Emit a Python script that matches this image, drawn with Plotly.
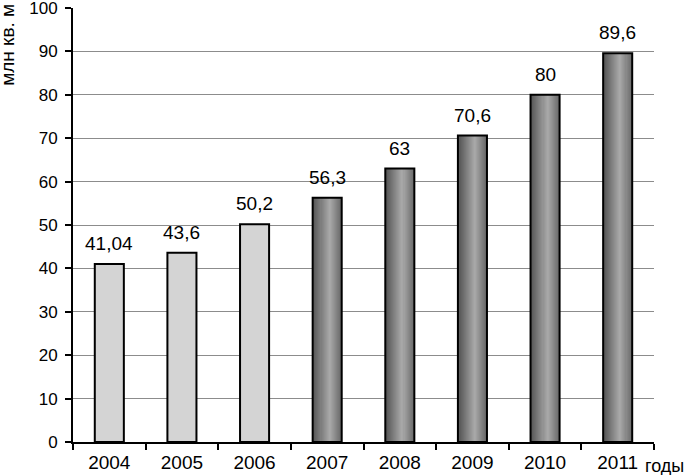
import plotly.graph_objects as go

years = ["2004", "2005", "2006", "2007", "2008", "2009", "2010", "2011"]
values = [41.04, 43.6, 50.2, 56.3, 63, 70.6, 80, 89.6]
labels = ["41,04", "43,6", "50,2", "56,3", "63", "70,6", "80", "89,6"]
y_ticks = [0, 10, 20, 30, 40, 50, 60, 70, 80, 90, 100]
light_years = years[:3]
light_values = values[:3]
dark_years = years[3:]
dark_values = values[3:]

BAR_W = 0.40
N_STRIPS = 28
FONT = "Liberation Sans, Arial, sans-serif"


def lerp(c1, c2, t):
    return tuple(int(round(a + (b - a) * t)) for a, b in zip(c1, c2))


def grad_color(t):
    stops = [(0.0, (80, 80, 80)), (0.6, (170, 170, 170)), (1.0, (105, 105, 105))]
    for (p0, c0), (p1, c1) in zip(stops[:-1], stops[1:]):
        if p0 <= t <= p1:
            c = lerp(c0, c1, (t - p0) / (p1 - p0))
            return "rgb(%d,%d,%d)" % c
    return "rgb(105,105,105)"


fig = go.Figure()

fig.add_trace(go.Bar(
    x=light_years, y=light_values, width=BAR_W,
    marker=dict(color="#d4d4d4", line=dict(color="black", width=2)),
    hoverinfo="skip", showlegend=False,
))

sw = BAR_W / N_STRIPS
for i in range(N_STRIPS):
    fig.add_trace(go.Bar(
        x=dark_years, y=dark_values, width=sw * 1.05,
        offset=-BAR_W / 2 + i * sw,
        marker=dict(color=grad_color((i + 0.5) / N_STRIPS), line=dict(width=0)),
        hoverinfo="skip", showlegend=False,
    ))

fig.add_trace(go.Bar(
    x=dark_years, y=dark_values, width=BAR_W,
    marker=dict(color="rgba(0,0,0,0)", line=dict(color="black", width=2)),
    hoverinfo="skip", showlegend=False,
))

for idx, (v, lab) in enumerate(zip(values, labels)):
    fig.add_annotation(x=idx, y=v, text=lab, showarrow=False, xref="x", yref="y",
                       yanchor="bottom", yshift=8,
                       font=dict(family=FONT, size=19, color="black"))

fig.add_annotation(text="млн кв. м", xref="paper", yref="paper", x=0, y=0.816,
                   xanchor="center", yanchor="bottom", xshift=-65,
                   textangle=-90, showarrow=False,
                   font=dict(family=FONT, size=19, color="black"))
fig.add_annotation(text="годы", xref="paper", yref="paper", x=1, y=0,
                   xanchor="left", yanchor="top", xshift=-11, yshift=-12,
                   showarrow=False,
                   font=dict(family=FONT, size=18, color="black"))

fig.update_layout(
    width=690, height=475,
    margin=dict(l=73, r=36, t=8, b=33, autoexpand=False),
    paper_bgcolor="white", plot_bgcolor="white",
    barmode="overlay",
    font=dict(family=FONT, size=18, color="black"),
)
fig.update_xaxes(
    type="category", categoryorder="array", categoryarray=years,
    showgrid=False, showline=True, linecolor="black", linewidth=2,
    ticks="outside", tickson="boundaries", ticklen=6, tickwidth=2, tickcolor="black",
    range=[-0.5, 7.5], tickfont=dict(size=19), ticklabelstandoff=2,
    automargin=False, ticklabeloverflow="allow",
)
fig.update_yaxes(
    range=[0, 100], tickmode="array", tickvals=y_ticks,
    showgrid=True, gridcolor="#8c8c8c", gridwidth=1,
    showline=True, linecolor="black", linewidth=2,
    ticks="outside", ticklen=6, tickwidth=2, tickcolor="black",
    zeroline=False, tickfont=dict(size=17), ticklabelstandoff=4,
    automargin=False, ticklabeloverflow="allow",
)

fig.write_html("out.html", config={"displayModeBar": False},
               post_script="document.body.style.margin='0';document.body.style.padding='0';")
